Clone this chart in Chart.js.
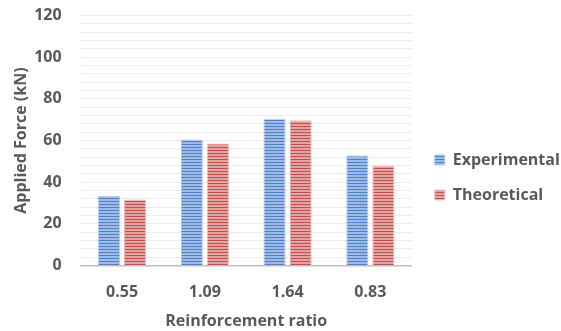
<!DOCTYPE html>
<html>
<head>
<meta charset="utf-8">
<script src="https://cdn.jsdelivr.net/npm/chart.js@4/dist/chart.umd.min.js"></script>
<style>
  html, body { margin: 0; padding: 0; background: #ffffff; }
  #wrap { width: 561px; height: 331px; position: relative; }
</style>
</head>
<body>
<div id="wrap"><canvas id="chart" width="561" height="331"></canvas></div>
<script>
// Reinforcement ratio categories and applied force values (kN)
const categories = ['0.55', '1.09', '1.64', '0.83'];
const experimental = [33.5, 60.5, 70.5, 52.8];
const theoretical = [31.7, 58.6, 69.8, 48.0];
const seriesNames = ['Experimental', 'Theoretical'];
const yLabelStep = 20;

const textColor = '#595959';
const fontFamily = '"Open Sans", "DejaVu Sans", sans-serif';
const boldFont = { family: fontFamily, size: 16, weight: 'bold' };

// Narrow horizontal stripe fill used by the bars
function stripePattern(dark, light) {
  const c = document.createElement('canvas');
  c.width = 4; c.height = 3;
  const g = c.getContext('2d');
  g.fillStyle = light;
  g.fillRect(0, 0, 4, 3);
  g.fillStyle = dark;
  g.fillRect(0, 0, 4, 1);
  return g.createPattern(c, 'repeat');
}
const blueFill = stripePattern('#4f7fc4', '#9dbbe4');
const redFill = stripePattern('#c0504d', '#e3a3a1');

// Nudge the legend block and let it run to the canvas edge
const legendOffset = {
  id: 'legendOffset',
  afterLayout(chart, args, opts) {
    const lg = chart.legend;
    if (!lg) return;
    lg.top += opts.dy; lg.bottom += opts.dy;
    lg.left += opts.dx;
    lg.right = chart.width;
    lg.width = lg.right - lg.left;
  }
};

new Chart(document.getElementById('chart'), {
  type: 'bar',
  data: {
    labels: categories,
    datasets: [
      { label: seriesNames[0], data: experimental, backgroundColor: blueFill,
        borderColor: '#b3caea', borderWidth: 1, borderSkipped: 'bottom' },
      { label: seriesNames[1], data: theoretical, backgroundColor: redFill,
        borderColor: '#ecbcbb', borderWidth: 1, borderSkipped: 'bottom' }
    ]
  },
  plugins: [legendOffset],
  options: {
    responsive: false,
    animation: false,
    layout: { padding: { top: 0, right: 16, bottom: 0, left: 12 } },
    datasets: { bar: { categoryPercentage: 0.63, barPercentage: 0.85 } },
    scales: {
      x: {
        grid: { display: false, drawTicks: false },
        border: { display: true, color: '#bfbfbf', width: 1.5 },
        ticks: { color: textColor, font: boldFont, padding: 17 },
        title: { display: true, text: 'Reinforcement ratio', color: textColor,
                 font: boldFont, padding: { top: -7, bottom: 0 } }
      },
      y: {
        min: 0, max: 120,
        grid: { color: '#ececec', lineWidth: 1, drawTicks: true, tickLength: 13, tickColor: 'rgba(0,0,0,0)' },
        border: { display: false },
        ticks: {
          stepSize: 4, autoSkip: false, color: textColor, padding: 6,
          font: boldFont,
          callback: v => (v % yLabelStep === 0 ? String(v) : '')
        },
        title: { display: true, text: 'Applied Force (kN)', color: textColor,
                 font: boldFont, padding: { top: 0, bottom: -3 } }
      }
    },
    plugins: {
      legend: {
        position: 'right',
        labels: {
          boxWidth: 10, boxHeight: 10, padding: 19, color: textColor,
          font: boldFont
        }
      },
      legendOffset: { dx: 4, dy: 12 },
      tooltip: { enabled: false }
    }
  }
});
</script>
</body>
</html>
